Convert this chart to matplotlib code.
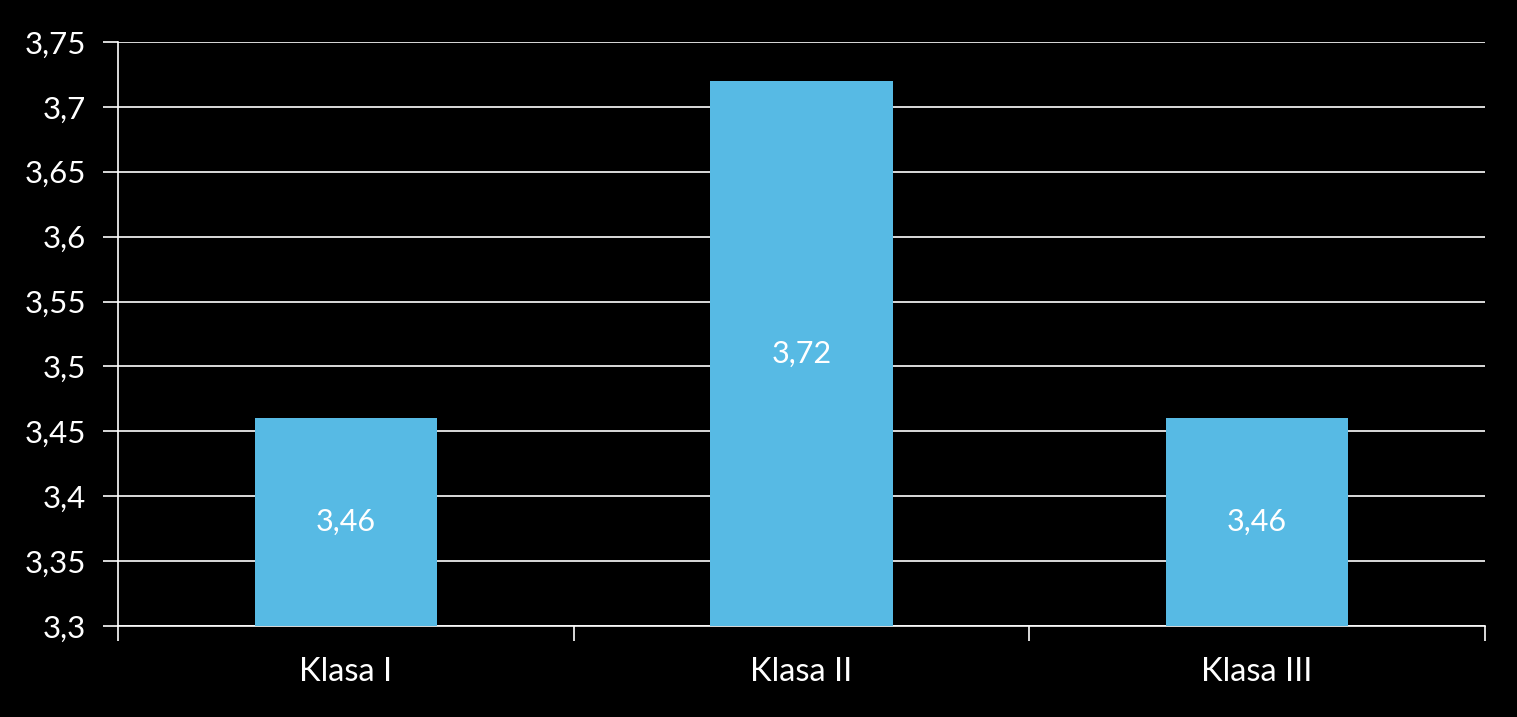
import matplotlib.pyplot as plt

categories = ["Klasa I", "Klasa II", "Klasa III"]
values = [3.46, 3.72, 3.46]
value_labels = ["3,46", "3,72", "3,46"]
yticks = [3.3, 3.35, 3.4, 3.45, 3.5, 3.55, 3.6, 3.65, 3.7, 3.75]
ytick_labels = ["3,3", "3,35", "3,4", "3,45", "3,5", "3,55", "3,6", "3,65", "3,7", "3,75"]

plt.rcParams['font.family'] = ['Lato', 'DejaVu Sans']

fig = plt.figure(figsize=(15.17, 7.17), dpi=100, facecolor="black")
ax = fig.add_axes([118 / 1517, 1 - 626 / 717, (1485 - 118) / 1517, (626 - 42) / 717])
ax.set_facecolor("black")

ybase = 3.3
x = list(range(len(categories)))
heights = [v - ybase for v in values]
bars = ax.bar(x, heights, bottom=ybase, width=0.4, color="#57BAE4", zorder=3)

for i, b in enumerate(bars):
    mid = ybase + heights[i] / 2
    ax.text(x[i], mid, value_labels[i], ha="center", va="center",
            color="white", fontsize=22, zorder=4)

ax.set_ylim(3.3, 3.75)
ax.set_xlim(-0.5, 2.5)
ax.set_yticks(yticks)
ax.set_yticklabels(ytick_labels)
ax.yaxis.grid(True, color="white", linewidth=1.2, zorder=0)
ax.set_axisbelow(True)

ax.set_xticks(x)
ax.set_xticklabels(categories)
ax.set_xticks([-0.5, 0.5, 1.5, 2.5], minor=True)
ax.tick_params(axis="x", which="major", length=0, pad=22, labelsize=23.5, colors="white")
ax.tick_params(axis="x", which="minor", length=11, width=1.2, color="white", direction="out")
ax.tick_params(axis="y", length=11, width=1.2, color="white", labelsize=22.5,
               labelcolor="white", pad=12)

for s in ["top", "right"]:
    ax.spines[s].set_visible(False)
ax.spines["left"].set_color("white")
ax.spines["left"].set_linewidth(1.2)
ax.spines["bottom"].set_color("white")
ax.spines["bottom"].set_linewidth(1.2)

fig.savefig("out.png", dpi=100, facecolor="black")
